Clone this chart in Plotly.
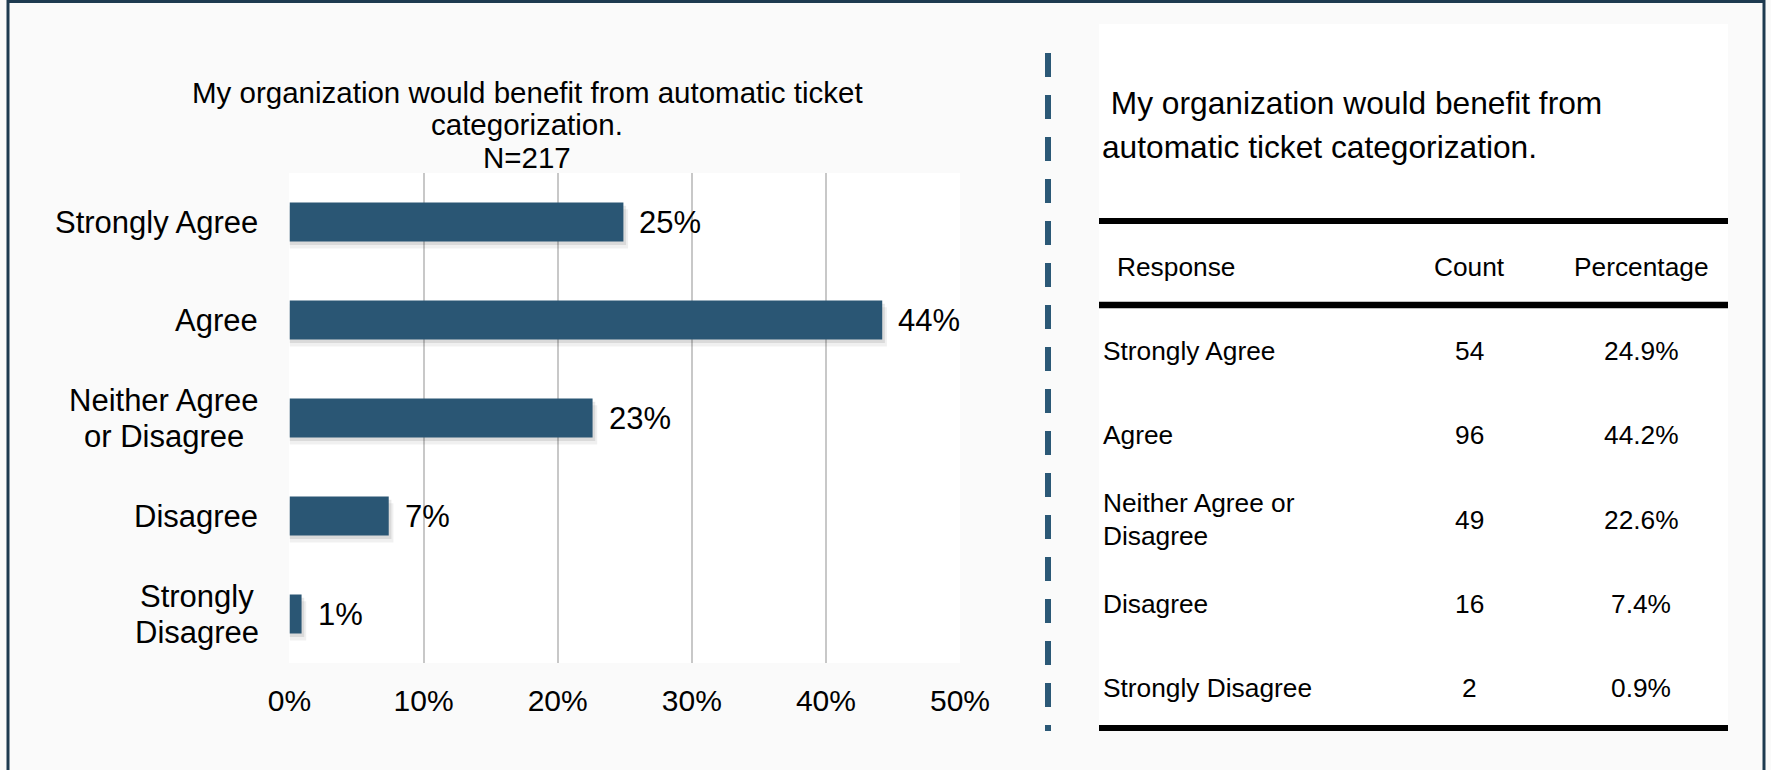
import plotly.graph_objects as go

# ---------------- data ----------------
categories = ["Strongly Agree", "Agree", "Neither Agree or Disagree", "Disagree", "Strongly Disagree"]
axis_labels = ["Strongly Agree", "Agree", "Neither Agree<br>or Disagree", "Disagree", "Strongly<br>Disagree"]
table_labels = ["Strongly Agree", "Agree", "Neither Agree or<br>Disagree", "Disagree", "Strongly Disagree"]
counts = [54, 96, 49, 16, 2]
percentages = [24.9, 44.2, 22.6, 7.4, 0.9]
x_ticks = [0, 10, 20, 30, 40, 50]
x_tick_labels = ["0%", "10%", "20%", "30%", "40%", "50%"]
chart_title_lines = ["My organization would benefit from automatic ticket", "categorization.", "N=217"]
table_title_lines = ["\u00a0My organization would benefit from", "automatic ticket categorization."]
table_headers = ["Response", "Count", "Percentage"]

# ---------------- layout helpers ----------------
W, H = 1771, 770
FONT = "Liberation Sans, Arial, Helvetica, sans-serif"
BAR = "#2a5674"


def fx(px):
    return px / W


def fy(py):
    return 1 - py / H


fig = go.Figure()

# soft shadow behind the bars (two faint layers)
fig.add_trace(go.Bar(
    x=[v + 0.35 for v in percentages], y=categories, orientation="h",
    width=0.4, offset=-0.13, marker=dict(color="rgba(0,0,0,0.06)", line=dict(width=0)),
    hoverinfo="skip", showlegend=False,
))
fig.add_trace(go.Bar(
    x=[v + 0.2 for v in percentages], y=categories, orientation="h",
    width=0.4, offset=-0.165, marker=dict(color="rgba(0,0,0,0.09)", line=dict(width=0)),
    hoverinfo="skip", showlegend=False,
))
fig.add_trace(go.Bar(
    x=percentages, y=categories, orientation="h",
    width=0.4, offset=-0.2, marker=dict(color=BAR, line=dict(width=0)),
    showlegend=False,
))

annotations = []

# bar value labels
for cat, v in zip(categories, percentages):
    annotations.append(dict(
        x=v, y=cat, xref="x", yref="y", xanchor="left", yanchor="middle",
        xshift=14, text=f"{round(v)}%", showarrow=False,
        font=dict(family=FONT, size=31, color="#000000"),
    ))

# category labels: single lines right-aligned, multi-line blocks centred
label_right = 259.5
for cat, lab in zip(categories, axis_labels):
    lines = lab.split("<br>")
    n = len(lines)
    if n == 1:
        annotations.append(dict(
            x=fx(label_right), y=cat, xref="paper", yref="y",
            xanchor="right", yanchor="middle", text=lab, showarrow=False,
            font=dict(family=FONT, size=31, color="#000000"),
        ))
    else:
        for i, ln in enumerate(lines):
            shift = (n - 1) / 2 * 36 - i * 36
            annotations.append(dict(
                x=fx(label_right), y=cat, xref="paper", yref="y",
                xanchor="right", yanchor="middle", yshift=shift,
                text=ln, showarrow=False, name="multi",
                font=dict(family=FONT, size=31, color="#000000"),
            ))

# chart title
for i, ln in enumerate(chart_title_lines):
    annotations.append(dict(
        x=fx(527), y=fy(92 + i * 32.5), xref="paper", yref="paper",
        xanchor="center", yanchor="middle", text=ln, showarrow=False,
        font=dict(family=FONT, size=29.5, color="#000000"),
    ))

# table title
for i, ln in enumerate(table_title_lines):
    annotations.append(dict(
        x=fx(1100), y=fy(103 + i * 44), xref="paper", yref="paper",
        xanchor="left", yanchor="middle", text=ln, showarrow=False,
        font=dict(family=FONT, size=31.7, color="#000000"),
    ))

# table header
col_x = [1115, 1469, 1641]
col_anchor = ["left", "center", "center"]
for h, cx, an in zip(table_headers, col_x, col_anchor):
    annotations.append(dict(
        x=fx(cx), y=fy(267), xref="paper", yref="paper", xanchor=an, yanchor="middle",
        text=h, showarrow=False, font=dict(family=FONT, size=26.3, color="#000000"),
    ))

# table rows
row0, row_step = 351, 84.25
for i, (lab, c, p) in enumerate(zip(table_labels, counts, percentages)):
    cy = row0 + i * row_step
    lines = lab.split("<br>")
    n = len(lines)
    for j, ln in enumerate(lines):
        ly = cy - (n - 1) / 2 * 33 + j * 33
        annotations.append(dict(
            x=fx(1101), y=fy(ly), xref="paper", yref="paper", xanchor="left", yanchor="middle",
            text=ln, showarrow=False, font=dict(family=FONT, size=26.3, color="#000000"),
        ))
    annotations.append(dict(
        x=fx(1469), y=fy(cy), xref="paper", yref="paper", xanchor="center", yanchor="middle",
        text=str(c), showarrow=False, font=dict(family=FONT, size=26.3, color="#000000"),
    ))
    annotations.append(dict(
        x=fx(1641), y=fy(cy), xref="paper", yref="paper", xanchor="center", yanchor="middle",
        text=f"{p:.1f}%", showarrow=False, font=dict(family=FONT, size=26.3, color="#000000"),
    ))

# multi-line axis labels: centre each line on the block's centre
block_centres = {"Neither Agree": 164, "or Disagree": 164, "Strongly": 197, "Disagree": 197}
for a in annotations:
    if a.get("name") == "multi":
        a["x"] = fx(block_centres[a["text"]])
        a["xanchor"] = "center"
        a.pop("name")

shapes = [
    # white table panel
    dict(type="rect", xref="paper", yref="paper", x0=fx(1099), x1=fx(1728), y0=fy(731), y1=fy(24),
         fillcolor="#ffffff", line=dict(width=0), layer="below"),
    # table rules
    dict(type="line", xref="paper", yref="paper", x0=fx(1099), x1=fx(1728), y0=fy(221), y1=fy(221),
         line=dict(color="#000000", width=6)),
    dict(type="line", xref="paper", yref="paper", x0=fx(1099), x1=fx(1728), y0=fy(305), y1=fy(305),
         line=dict(color="#000000", width=6.5)),
    dict(type="line", xref="paper", yref="paper", x0=fx(1099), x1=fx(1728), y0=fy(728), y1=fy(728),
         line=dict(color="#000000", width=6)),
    # dashed separator
    dict(type="line", xref="paper", yref="paper", x0=fx(1048), x1=fx(1048), y0=fy(53), y1=fy(731),
         line=dict(color="#2b5876", width=6, dash="24px,18px")),
    # outer frame (top, left, right)
    dict(type="line", xref="paper", yref="paper", x0=fx(8), x1=fx(1764), y0=fy(1.5), y1=fy(1.5),
         line=dict(color="#1e3a50", width=3)),
    dict(type="line", xref="paper", yref="paper", x0=fx(8), x1=fx(8), y0=fy(0), y1=fy(772),
         line=dict(color="#1e3a50", width=3)),
    dict(type="line", xref="paper", yref="paper", x0=fx(1764), x1=fx(1764), y0=fy(0), y1=fy(772),
         line=dict(color="#1e3a50", width=3)),
]

fig.update_layout(
    width=W, height=H, autosize=False,
    margin=dict(l=0, r=0, t=0, b=0, pad=0, autoexpand=False),
    paper_bgcolor="#fafafa", plot_bgcolor="#ffffff",
    barmode="overlay",
    showlegend=False,
    font=dict(family=FONT, color="#000000"),
    xaxis=dict(
        domain=[fx(289.5), fx(960)], range=[0, 50], automargin=False,
        tickvals=x_ticks, ticktext=x_tick_labels,
        tickfont=dict(family=FONT, size=30, color="#000000"),
        showgrid=True, gridcolor="#c8c8c8", gridwidth=1.5,
        zeroline=True, zerolinecolor="#ffffff", zerolinewidth=1,
        showline=False, ticks="", ticklabelstandoff=17, fixedrange=True,
    ),
    yaxis=dict(
        domain=[fy(663), fy(173)], type="category", automargin=False,
        categoryorder="array", categoryarray=categories, autorange="reversed",
        showticklabels=False, showgrid=False, zeroline=False, showline=False, ticks="",
        fixedrange=True,
    ),
    annotations=annotations,
    shapes=shapes,
)

fig.write_html("out.html")
